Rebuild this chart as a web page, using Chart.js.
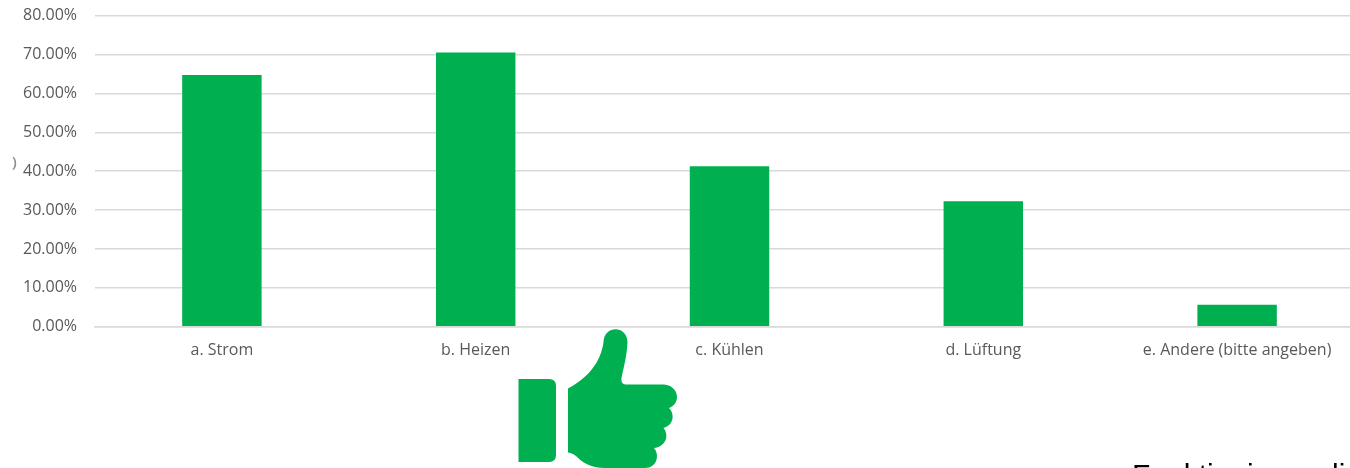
<!DOCTYPE html>
<html><head><meta charset="utf-8">
<style>html,body{margin:0;padding:0;background:#fff;overflow:hidden;width:1350px;height:468px}
#w{position:absolute;left:0;top:-12px;width:1364px;height:480px}
#note{position:absolute;left:1132px;top:458px;font:30px "Liberation Sans";color:#000;white-space:nowrap}
#mark{position:absolute;left:12px;top:151px;font:600 15px "Open Sans";color:#8c8c8c}</style>
<script src="https://cdn.jsdelivr.net/npm/chart.js@4"></script></head>
<body><div id="w"><canvas id="c"></canvas></div>
<div id="mark">)</div><div id="note">Funktionieren di</div>
<script>
const categories=["a. Strom","b. Heizen","c. Kühlen","d. Lüftung","e. Andere (bitte angeben)"];
const values=[64.7,70.5,41.3,32.3,5.7];
const barColor="#00B050";
const thumbs={id:"thumbs",afterDraw(ch){const g=ch.ctx;g.save();g.translate(0,12);g.fillStyle=barColor;
 g.fill(new Path2D("M518.5 379H549Q556 379 556 386V455Q556 462 549 462H518.5Z"));
 g.fill(new Path2D("M568 388.5C588 378 601 362 603.5 342C604 325 627 325 627.5 342C627 355 624 366 621.5 378C621 383 623 384.5 627 384.5H663C671 384.5 677 390 677 397C677 402 674 406 669 408C675 414 674 425 663.5 428C670 436 665 447 654 448C660 455 657 468 645 468H605C590 468 582 462 576 456C573 454 570 452.5 568 452.5Z"));
 g.restore();}};
new Chart(document.getElementById("c"),{type:"bar",plugins:[thumbs],
 data:{labels:categories,datasets:[{data:values,backgroundColor:barColor,barPercentage:0.313,categoryPercentage:1}]},
 options:{responsive:true,maintainAspectRatio:false,animation:false,
  layout:{padding:{left:0,right:0,top:6.5,bottom:101}},
  plugins:{legend:{display:false},tooltip:{enabled:false}},
  scales:{
   x:{grid:{display:false},border:{color:"#d9d9d9",width:1.5},ticks:{color:"#595959",font:{family:"Open Sans",size:16},padding:6.5,maxRotation:0,autoSkip:false}},
   y:{min:0,max:80,afterFit(a){a.width=95},grid:{color:"#d9d9d9",lineWidth:1.5,drawTicks:false},border:{display:false},
      ticks:{stepSize:10,color:"#595959",padding:18,font:{family:"Open Sans",size:16},callback:v=>v.toFixed(2)+"%"}}
  }}});
</script></body></html>
